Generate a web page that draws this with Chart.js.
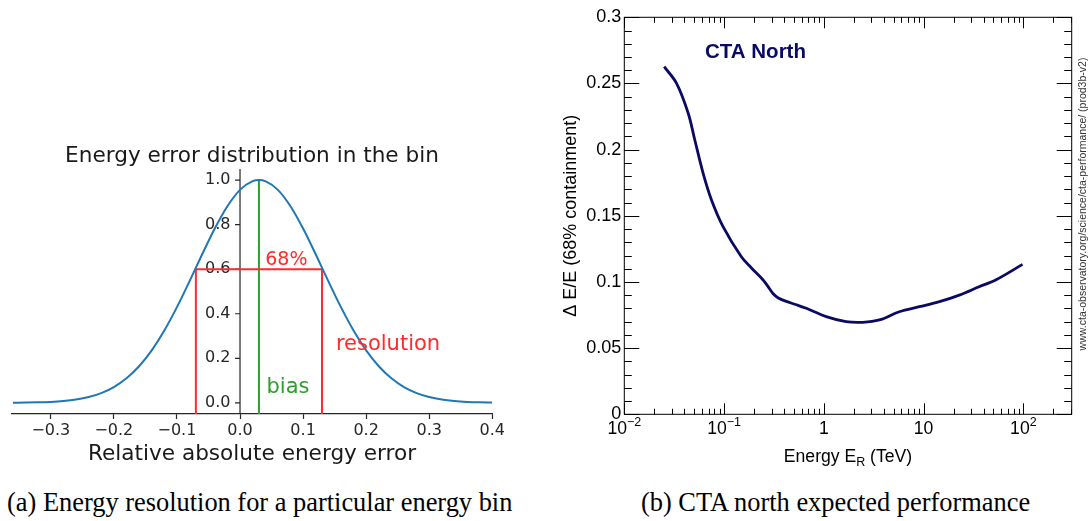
<!DOCTYPE html>
<html>
<head>
<meta charset="utf-8">
<script src="https://cdn.jsdelivr.net/npm/chart.js@4.4.1/dist/chart.umd.min.js"></script>
<style>
  html, body { margin: 0; padding: 0; background: #fff; }
  #wrap { position: relative; width: 1088px; height: 521px; overflow: hidden; }
  #errChart { position: absolute; left: 0; top: 0; }
  #ctaChart { position: absolute; left: 540px; top: 0; }
  .caption { position: absolute; top: 489px; font-family: 'Liberation Serif', 'Times New Roman', serif; font-size: 26.4px; line-height: 26px; color: #000; white-space: nowrap; }
</style>
</head>
<body>
<div id="wrap">
  <canvas id="errChart" width="540" height="480"></canvas>
  <canvas id="ctaChart" width="548" height="480"></canvas>
  <div class="caption" style="left:7px">(a) Energy resolution for a particular energy bin</div>
  <div class="caption" style="left:835.5px; transform: translateX(-50%)">(b) CTA north expected performance</div>
</div>
<script>
// (a) energy error distribution
const errX = [-0.36, -0.34, -0.32, -0.30, -0.28, -0.26, -0.24, -0.22, -0.20, -0.18, -0.16, -0.14, -0.12, -0.10,
  -0.08, -0.06, -0.04, -0.02, 0.00, 0.02, 0.03, 0.04, 0.06, 0.08, 0.10, 0.12, 0.14, 0.16, 0.18, 0.20,
  0.22, 0.24, 0.26, 0.28, 0.30, 0.32, 0.34, 0.36, 0.38, 0.40];
const errY = [0.0005, 0.0011, 0.0022, 0.0043, 0.0082, 0.0149, 0.0261, 0.0439, 0.0710, 0.1103, 0.1645, 0.2357, 0.3247, 0.4296,
  0.5461, 0.6670, 0.7827, 0.8825, 0.9560, 0.9950, 1.0, 0.9950, 0.9560, 0.8825, 0.7827, 0.6670, 0.5461, 0.4296, 0.3247, 0.2357,
  0.1645, 0.1103, 0.0710, 0.0439, 0.0261, 0.0149, 0.0082, 0.0043, 0.0022, 0.0011];
const resBoxX = [-0.07, -0.07, 0.13, 0.13];
const resBoxY = [-0.05, 0.6, 0.6, -0.05];
const biasX = [0.03, 0.03];
const biasY = [-0.05, 1.0];
const errTicksX = [-0.3, -0.2, -0.1, 0.0, 0.1, 0.2, 0.3, 0.4];
const errTicksY = [0.0, 0.2, 0.4, 0.6, 0.8, 1.0];

// (b) CTA North energy resolution
const energy = [0.0251, 0.0334, 0.0437, 0.0509, 0.0617, 0.0748, 0.0977, 0.149, 0.188, 0.245, 0.273, 0.309, 0.35,
  0.421, 0.52, 0.667, 1.057, 1.67, 2.45, 3.6, 5.7, 9.06, 14.4, 22.8, 36, 52.7, 98];
const resolution = [0.2627, 0.2501, 0.2275, 0.2073, 0.1821, 0.162, 0.1418, 0.119, 0.1106, 0.1017, 0.0970, 0.0913, 0.0879,
  0.0853, 0.0830, 0.0801, 0.0738, 0.0700, 0.0695, 0.0713, 0.0775, 0.0813, 0.0851, 0.0901, 0.0964, 0.1015, 0.1133];
const energyTicks = [0.01, 0.1, 1, 10, 100];
const energyTickBase = ['10', '10', '1', '10', '10'];
const energyTickExp = ['\u22122', '\u22121', '', '', '2'];
const resTicks = [0, 0.05, 0.1, 0.15, 0.2, 0.25, 0.3];

const pairs = (xs, ys) => xs.map((x, i) => ({ x: x, y: ys[i] }));

const MPL = 'DejaVu Sans';
const ROOT = "'Liberation Sans', Arial, sans-serif";
const SPINE = '#262626';

// matplotlib centred y spine and annotations for (a)
const errAxes = {
  id: 'errAxes',
  beforeDatasetsDraw(chart) {
    const { ctx, chartArea: a, scales: { x, y } } = chart;
    const px = x.getPixelForValue(0);
    ctx.save();
    ctx.strokeStyle = SPINE;
    ctx.lineWidth = 1.2;
    ctx.beginPath();
    ctx.moveTo(px, a.top); ctx.lineTo(px, a.bottom);
    errTicksY.forEach(v => {
      const py = y.getPixelForValue(v);
      ctx.moveTo(px, py); ctx.lineTo(px - 5, py);
    });
    ctx.stroke();
    ctx.fillStyle = SPINE;
    ctx.font = '16px ' + MPL;
    ctx.textAlign = 'right';
    ctx.textBaseline = 'middle';
    errTicksY.forEach(v => ctx.fillText(v.toFixed(1), px - 9.5, y.getPixelForValue(v)));
    ctx.restore();
  },
  afterDatasetsDraw(chart) {
    const { ctx, scales: { x, y } } = chart;
    ctx.save();
    ctx.textBaseline = 'alphabetic';
    ctx.textAlign = 'left';
    ctx.fillStyle = '#ff2b2b';
    ctx.font = '19px ' + MPL;
    ctx.fillText('68%', x.getPixelForValue(0.04), y.getPixelForValue(0.62));
    ctx.font = '21px ' + MPL;
    ctx.fillText('resolution', x.getPixelForValue(0.152), y.getPixelForValue(0.239));
    ctx.fillStyle = '#2ca02c';
    ctx.fillText('bias', x.getPixelForValue(0.042), y.getPixelForValue(0.045));
    ctx.restore();
  }
};

new Chart(document.getElementById('errChart'), {
  type: 'scatter',
  data: {
    datasets: [
      { data: pairs(errX, errY), showLine: true, borderColor: '#1f77b4', borderWidth: 2, pointRadius: 0, cubicInterpolationMode: 'monotone' },
      { data: pairs(resBoxX, resBoxY), showLine: true, borderColor: '#ff2b2b', borderWidth: 2, pointRadius: 0 },
      { data: pairs(biasX, biasY), showLine: true, borderColor: '#2ca02c', borderWidth: 2, pointRadius: 0 }
    ]
  },
  options: {
    responsive: false,
    animation: false,
    layout: { padding: { left: 11.7, right: 47.7, top: 0, bottom: 0 } },
    plugins: {
      legend: { display: false },
      tooltip: { enabled: false },
      title: {
        display: true,
        text: 'Energy error distribution in the bin',
        color: '#1a1a1a',
        font: { family: MPL, size: 21.6, weight: 'normal' },
        padding: { top: 143, bottom: 0 }
      }
    },
    scales: {
      x: {
        type: 'linear',
        min: -0.362,
        max: 0.4,
        afterBuildTicks: (axis) => { axis.ticks = errTicksX.map(v => ({ value: v })); },
        afterFit: (axis) => { axis.height = 66; },
        grid: { drawOnChartArea: false, tickLength: 5, tickColor: SPINE, tickWidth: 1.2 },
        border: { color: SPINE, width: 1.2 },
        ticks: {
          color: SPINE,
          font: { family: MPL, size: 16 },
          padding: 2,
          maxRotation: 0,
          autoSkip: false,
          callback: (v) => (v < 0 ? '\u2212' : '') + Math.abs(v).toFixed(1)
        },
        title: {
          display: true,
          text: 'Relative absolute energy error',
          color: '#1a1a1a',
          font: { family: MPL, size: 21.6 },
          padding: { top: 0, bottom: 12.5 }
        }
      },
      y: {
        type: 'linear',
        display: false,
        min: -0.05,
        max: 1.05
      }
    }
  },
  plugins: [errAxes]
});

// ROOT style frame, inward ticks and extra texts for (b)
const rootFrame = {
  id: 'rootFrame',
  afterDraw(chart) {
    const { ctx, chartArea: a, scales: { x, y } } = chart;
    ctx.save();
    ctx.strokeStyle = '#000';
    ctx.lineWidth = 1;
    ctx.strokeRect(a.left, a.top, a.right - a.left, a.bottom - a.top);
    ctx.beginPath();
    // y ticks: every 0.01, major every 0.05
    for (let k = 0; k <= 30; k++) {
      const py = Math.round(y.getPixelForValue(k / 100)) + 0.5;
      const len = k % 5 === 0 ? 15 : 7.5;
      ctx.moveTo(a.left, py); ctx.lineTo(a.left + len, py);
      ctx.moveTo(a.right, py); ctx.lineTo(a.right - len, py);
    }
    // x ticks: log decades with 2..9 subdivisions
    for (let d = -2; d <= 2; d++) {
      for (let m = 1; m <= 9; m++) {
        const v = m * Math.pow(10, d);
        if (v > x.max) continue;
        const px = Math.round(x.getPixelForValue(v)) + 0.5;
        const len = m === 1 ? 11 : 5.5;
        ctx.moveTo(px, a.bottom); ctx.lineTo(px, a.bottom - len);
        ctx.moveTo(px, a.top); ctx.lineTo(px, a.top + len);
      }
    }
    ctx.stroke();

    ctx.fillStyle = '#000';
    ctx.textBaseline = 'alphabetic';
    ctx.textAlign = 'left';
    const big = '17.6px ' + ROOT, small = '12.5px ' + ROOT;

    // x tick labels with exponents
    energyTicks.forEach((v, i) => {
      ctx.font = big;
      const wb = ctx.measureText(energyTickBase[i]).width;
      ctx.font = small;
      const we = energyTickExp[i] ? ctx.measureText(energyTickExp[i]).width : 0;
      let lx = x.getPixelForValue(v) - (wb + we) / 2;
      ctx.font = big; ctx.fillText(energyTickBase[i], lx, 433.5);
      if (we) { ctx.font = small; ctx.fillText(energyTickExp[i], lx + wb, 426); }
    });

    // x title with subscript
    ctx.font = big;
    const w1 = ctx.measureText('Energy E').width;
    const w3 = ctx.measureText(' (TeV)').width;
    ctx.font = small;
    const w2 = ctx.measureText('R').width;
    let tx = (a.left + a.right) / 2 - (w1 + w2 + w3) / 2;
    const base = 461.5;
    ctx.font = big; ctx.fillText('Energy E', tx, base); tx += w1;
    ctx.font = small; ctx.fillText('R', tx, base + 4.5); tx += w2;
    ctx.font = big; ctx.fillText(' (TeV)', tx, base);

    // label
    ctx.fillStyle = '#0a0a64';
    ctx.font = 'bold 20.5px ' + ROOT;
    ctx.fillText('CTA North', 165, 58);

    // vertical source note
    ctx.fillStyle = '#333';
    ctx.font = '10.5px ' + ROOT;
    ctx.translate(543, 204);
    ctx.rotate(-Math.PI / 2);
    ctx.textAlign = 'center';
    ctx.textBaseline = 'middle';
    ctx.fillText('www.cta-observatory.org/science/cta-performance/ (prod3b-v2)', 0, 0);
    ctx.restore();
  }
};

new Chart(document.getElementById('ctaChart'), {
  type: 'scatter',
  data: {
    datasets: [
      { data: pairs(energy, resolution), showLine: true, borderColor: '#0a0a64', borderWidth: 2.8, pointRadius: 0, tension: 0.35 }
    ]
  },
  options: {
    responsive: false,
    animation: false,
    layout: { padding: { left: 0, right: 16.3, top: 17.3, bottom: 0 } },
    plugins: { legend: { display: false }, tooltip: { enabled: false } },
    scales: {
      x: {
        type: 'logarithmic',
        min: 0.01,
        max: 305,
        afterBuildTicks: (axis) => { axis.ticks = energyTicks.map(v => ({ value: v })); },
        afterFit: (axis) => { axis.height = 65.7; },
        grid: { display: false, drawTicks: false },
        border: { display: false },
        ticks: { display: false }
      },
      y: {
        type: 'linear',
        min: 0,
        max: 0.3,
        afterBuildTicks: (axis) => { axis.ticks = resTicks.map(v => ({ value: v })); },
        afterFit: (axis) => { axis.width = 84.3; },
        grid: { display: false, drawTicks: false },
        border: { display: false },
        ticks: {
          color: '#000',
          font: { family: ROOT, size: 18 },
          padding: 3,
          callback: (v) => String(parseFloat(v.toFixed(2)))
        },
        title: {
          display: true,
          text: '\u0394 E/E (68% containment)',
          color: '#000',
          font: { family: ROOT, size: 18 },
          padding: { top: 20.7, bottom: 0 }
        }
      }
    }
  },
  plugins: [rootFrame]
});
</script>
</body>
</html>
